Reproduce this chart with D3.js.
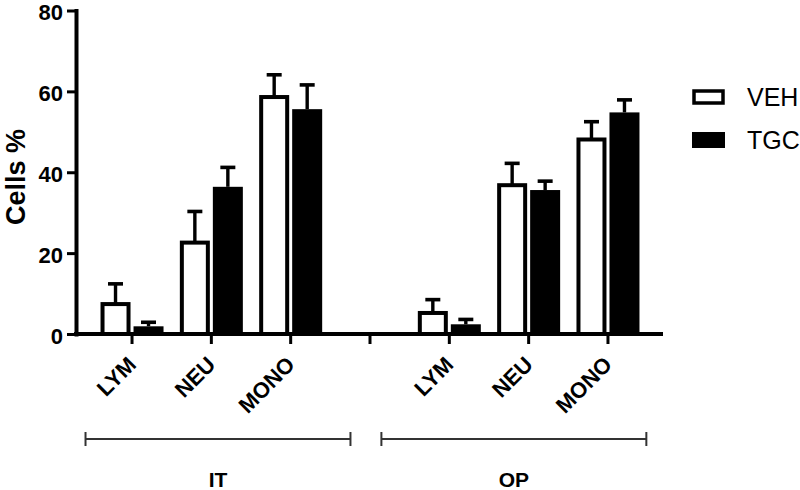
<!DOCTYPE html>
<html>
<head>
<meta charset="utf-8">
<script src="https://cdn.jsdelivr.net/npm/d3@7"></script>
<style>
  body { margin: 0; background: #fff; }
  svg { display: block; font-family: Arial, "Liberation Sans", Helvetica, sans-serif; }
</style>
</head>
<body>
<div id="chart"></div>
<script>
// groups and cell types along the x axis
const groups = ["IT", "OP"];
const cells = ["LYM", "NEU", "MONO"];
// mean and error (upper bar only), IT first then OP
const vehMean = [7.4, 22.6, 58.6, 5.2, 36.8, 48.1];
const vehErr = [5.0, 7.7, 5.5, 3.3, 5.4, 4.4];
const tgcMean = [1.9, 36.4, 55.6, 2.4, 35.6, 54.8];
const tgcErr = [1.0, 4.8, 6.0, 1.2, 2.2, 3.1];
const yTicks = [0, 20, 40, 60, 80];
const series = ["VEH", "TGC"];

const width = 800, height = 490;
const svg = d3.select("#chart").append("svg")
    .attr("width", width)
    .attr("height", height);

// categories incl. an empty slot between the two groups
const slots = [];
groups.forEach((g, gi) => {
    if (gi > 0) slots.push("gap" + gi);
    cells.forEach(c => slots.push(g + "-" + c));
});

const x = d3.scalePoint().domain(slots).range([76, 663]).padding(0.7);
const y = d3.scaleLinear().domain([0, 80]).range([334, 10.5]);

const rows = [];
groups.forEach((g, gi) => {
    cells.forEach((c, ci) => {
        const i = gi * cells.length + ci;
        rows.push({ key: g + "-" + c, cell: c, veh: vehMean[i], vehE: vehErr[i], tgc: tgcMean[i], tgcE: tgcErr[i] });
    });
});

const plot = svg.append("g");

// VEH bars (white with black outline)
plot.selectAll("rect.veh").data(rows).enter().append("rect")
    .attr("class", "veh")
    .attr("x", d => x(d.key) - 29)
    .attr("width", 26)
    .attr("y", d => y(d.veh))
    .attr("height", d => y(0) - y(d.veh))
    .attr("fill", "#fff")
    .attr("stroke", "#000")
    .attr("stroke-width", 4);

// TGC bars (black)
plot.selectAll("rect.tgc").data(rows).enter().append("rect")
    .attr("class", "tgc")
    .attr("x", d => x(d.key) + 2)
    .attr("width", 30)
    .attr("y", d => y(d.tgc))
    .attr("height", d => y(0) - y(d.tgc))
    .attr("fill", "#000");

// error bars
const errs = [];
rows.forEach(d => {
    errs.push({ cx: x(d.key) - 16, m: d.veh, e: d.vehE });
    errs.push({ cx: x(d.key) + 17, m: d.tgc, e: d.tgcE });
});
plot.selectAll("line.stem").data(errs).enter().append("line")
    .attr("x1", d => d.cx).attr("x2", d => d.cx)
    .attr("y1", d => y(d.m)).attr("y2", d => y(d.m + d.e))
    .attr("stroke", "#000").attr("stroke-width", 3.4);
plot.selectAll("line.cap").data(errs).enter().append("line")
    .attr("x1", d => d.cx - 7.5).attr("x2", d => d.cx + 7.5)
    .attr("y1", d => y(d.m + d.e)).attr("y2", d => y(d.m + d.e))
    .attr("stroke", "#000").attr("stroke-width", 3.6);

// y axis
const yAxis = svg.append("g")
    .attr("transform", "translate(76,0)")
    .call(d3.axisLeft(y).tickValues(yTicks).tickSize(9).tickSizeOuter(0).tickPadding(4));
yAxis.select(".domain").attr("stroke-width", 4).attr("stroke-linecap", "square");
yAxis.selectAll(".tick line").attr("stroke-width", 3);
yAxis.selectAll(".tick text")
    .attr("dy", "0.43em")
    .attr("font-size", 22).attr("font-weight", "bold").attr("font-family", null).attr("fill", "#000");

// x axis
const xAxis = svg.append("g")
    .attr("transform", "translate(0,334)")
    .call(d3.axisBottom(x).tickSize(10).tickSizeOuter(0).tickFormat(""));
xAxis.select(".domain").attr("stroke-width", 4).attr("d", "M74,0H663");
xAxis.selectAll(".tick line").attr("stroke-width", 3);

// rotated category labels
svg.append("g").selectAll("text").data(rows).enter().append("text")
    .attr("transform", d => "translate(" + (x(d.key) + 6) + ",366) rotate(-45)")
    .attr("text-anchor", "end")
    .attr("font-size", 22)
    .attr("font-weight", "bold")
    .text(d => d.cell);

// y axis title
svg.append("text")
    .attr("transform", "translate(25,177) rotate(-90)")
    .attr("text-anchor", "middle")
    .attr("font-size", 27)
    .attr("font-weight", "bold")
    .text("Cells %");

// group brackets
const step = x.step();
const brackets = groups.map((g, gi) => {
    const first = x(g + "-" + cells[0]);
    const last = x(g + "-" + cells[cells.length - 1]);
    return gi === 0
        ? { name: g, x0: first - 0.58 * step, x1: last + 0.76 * step }
        : { name: g, x0: first - 0.85 * step, x1: last + 0.49 * step };
});
const br = svg.append("g").selectAll("g").data(brackets).enter().append("g");
br.append("line")
    .attr("x1", d => d.x0).attr("x2", d => d.x1)
    .attr("y1", 439).attr("y2", 439)
    .attr("stroke", "#333").attr("stroke-width", 2);
br.append("line")
    .attr("x1", d => d.x0).attr("x2", d => d.x0)
    .attr("y1", 432).attr("y2", 446)
    .attr("stroke", "#333").attr("stroke-width", 2);
br.append("line")
    .attr("x1", d => d.x1).attr("x2", d => d.x1)
    .attr("y1", 432).attr("y2", 446)
    .attr("stroke", "#333").attr("stroke-width", 2);
br.append("text")
    .attr("x", d => (d.x0 + d.x1) / 2)
    .attr("y", 487)
    .attr("text-anchor", "middle")
    .attr("font-size", 21)
    .attr("font-weight", "bold")
    .text(d => d.name);

// legend
const legend = svg.append("g").selectAll("g").data(series).enter().append("g")
    .attr("transform", (d, i) => "translate(0," + (i * 43) + ")");
legend.append("rect")
    .attr("x", d => d === "VEH" ? 694 : 692)
    .attr("y", d => d === "VEH" ? 91 : 89)
    .attr("width", d => d === "VEH" ? 29 : 33)
    .attr("height", d => d === "VEH" ? 12 : 16)
    .attr("fill", d => d === "VEH" ? "#fff" : "#000")
    .attr("stroke", d => d === "VEH" ? "#000" : "none")
    .attr("stroke-width", 3.5);
legend.append("text")
    .attr("x", 747)
    .attr("y", 106)
    .attr("font-size", 25)
    .text(d => d);
</script>
</body>
</html>
